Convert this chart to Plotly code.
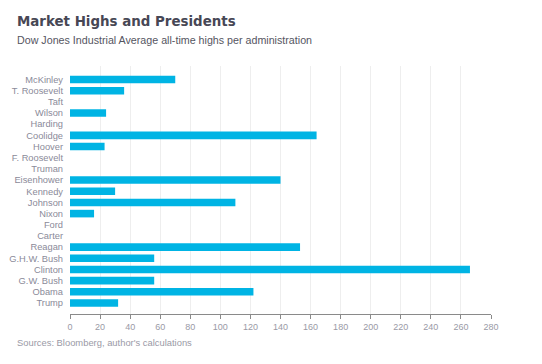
import plotly.graph_objects as go

presidents = ["McKinley", "T. Roosevelt", "Taft", "Wilson", "Harding", "Coolidge", "Hoover",
              "F. Roosevelt", "Truman", "Eisenhower", "Kennedy", "Johnson", "Nixon", "Ford",
              "Carter", "Reagan", "G.H.W. Bush", "Clinton", "G.W. Bush", "Obama", "Trump"]
highs = [70, 36, 0, 24, 0, 164, 23, 0, 0, 140, 30, 110, 16, 0, 0, 153, 56, 266, 56, 122, 32]
x_ticks = list(range(0, 281, 20))

W, H = 542, 364
ML, MR, MT, MB = 70, 51, 66, 50
PW, PH = W - ML - MR, H - MT - MB


def px_x(x):
    return (x - ML) / PW


def px_y(y):
    return (H - MB - y) / PH


fig = go.Figure()
fig.add_trace(go.Bar(
    x=highs, y=presidents, orientation="h",
    marker=dict(color="#00b4e4", line=dict(width=0)),
    width=0.68,
    hoverinfo="skip",
))

n = len(presidents)
step = 223.5 / (n - 1)
top_pad = (79.5 - MT) / step
bot_pad = (H - MB - 303) / step

fig.update_layout(
    width=W, height=H,
    margin=dict(l=ML, r=MR, t=MT, b=MB, autoexpand=False),
    paper_bgcolor="white", plot_bgcolor="white",
    showlegend=False,
    font=dict(family="Liberation Sans, Arial, sans-serif", color="#8a8a99", size=9),
    xaxis=dict(
        range=[0, 280], tickmode="array", tickvals=x_ticks, ticktext=[str(v) for v in x_ticks],
        showgrid=True, gridcolor="#eeeeee", gridwidth=1,
        showline=True, linecolor="#8a8a8a", linewidth=1,
        ticks="outside", ticklen=4, tickcolor="#8a8a8a",
        tickfont=dict(size=9, color="#9a9aa6"), zeroline=False, fixedrange=True,
        automargin=False,
    ),
    yaxis=dict(
        type="category", categoryorder="array", categoryarray=presidents,
        tickmode="array", tickvals=presidents, ticktext=presidents,
        range=[n - 1 + bot_pad, -top_pad],
        showgrid=False, showline=False, ticks="", ticklabelstandoff=6,
        tickfont=dict(size=9.3, color="#8a8a99"), zeroline=False, fixedrange=True,
        automargin=False,
    ),
    annotations=[
        dict(text="<b>Market Highs and Presidents</b>", x=px_x(15), y=px_y(22),
             xref="paper", yref="paper",
             showarrow=False, xanchor="left", yanchor="middle",
             font=dict(family="DejaVu Sans", size=13.4, color="#474755")),
        dict(text="Dow Jones Industrial Average all-time highs per administration",
             x=px_x(15), y=px_y(40), xref="paper", yref="paper",
             xanchor="left", yanchor="middle", showarrow=False,
             font=dict(family="Liberation Sans, Arial", size=10.7, color="#55555f")),
        dict(text="Sources: Bloomberg, author's calculations",
             x=px_x(15), y=px_y(342), xref="paper", yref="paper",
             xanchor="left", yanchor="middle", showarrow=False,
             font=dict(family="Liberation Sans, Arial", size=9.4, color="#9a9aa6")),
    ],
)

fig.write_html("out.html", post_script="document.body.style.margin='0px';",
               config={"displayModeBar": False, "staticPlot": True})
